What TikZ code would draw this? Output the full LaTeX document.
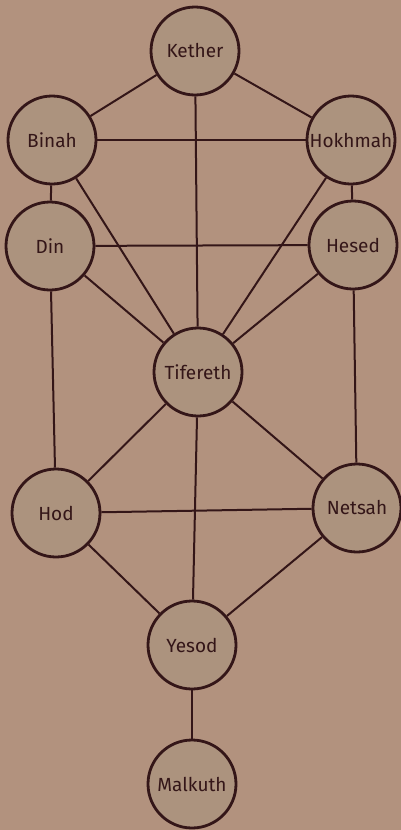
\documentclass[tikz,border=0pt]{standalone}
\usepackage{fontspec}
\setmainfont{Fira Sans}
\usepackage{xcolor}
\usetikzlibrary{positioning}

\definecolor{paper}{RGB}{178,146,126}
\definecolor{ink}{RGB}{52,22,24}
\definecolor{disc}{RGB}{172,147,126}

\begin{document}
\begin{tikzpicture}[
    x=1pt, y=-1pt,
    sefira/.style={circle, draw=ink, line width=2.8pt, fill=disc, minimum size=88pt, inner sep=0pt, align=center, text=ink, font=\fontsize{19}{19}\selectfont},
    line/.style={draw=ink, line width=2pt}
]

    % Background
    \fill[paper] (0,0) rectangle (401,830);
    \useasboundingbox (0,0) rectangle (401,830);

    % Sefirot
    \node[sefira] (kether) at (195,51) {Kether};
    \node[sefira] (binah) at (52,140) {Binah};
    \node[sefira] (hokhmah) at (351,140) {Hokhmah};
    \node[sefira] (din) at (50,246) {Din};
    \node[sefira] (hesed) at (353,245) {Hesed};
    \node[sefira] (tifereth) at (198,372) {Tifereth};
    \node[sefira] (hod) at (56,513) {Hod};
    \node[sefira] (netsah) at (357,508) {Netsah};
    \node[sefira] (yesod) at (192,645) {Yesod};
    \node[sefira] (malkuth) at (192,784) {Malkuth};

    % Paths
    \draw[line] (kether) -- (binah);
    \draw[line] (kether) -- (hokhmah);
    \draw[line] (kether) -- (tifereth);
    \draw[line] (binah) -- (hokhmah);
    \draw[line] (binah) -- (din);
    \draw[line] (hokhmah) -- (hesed);
    \draw[line] (binah) -- (tifereth);
    \draw[line] (hokhmah) -- (tifereth);
    \draw[line] (din) -- (hesed);
    \draw[line] (din) -- (tifereth);
    \draw[line] (hesed) -- (tifereth);
    \draw[line] (din) -- (hod);
    \draw[line] (hesed) -- (netsah);
    \draw[line] (tifereth) -- (hod);
    \draw[line] (tifereth) -- (netsah);
    \draw[line] (tifereth) -- (yesod);
    \draw[line] (hod) -- (netsah);
    \draw[line] (hod) -- (yesod);
    \draw[line] (netsah) -- (yesod);
    \draw[line] (yesod) -- (malkuth);

\end{tikzpicture}
\end{document}
